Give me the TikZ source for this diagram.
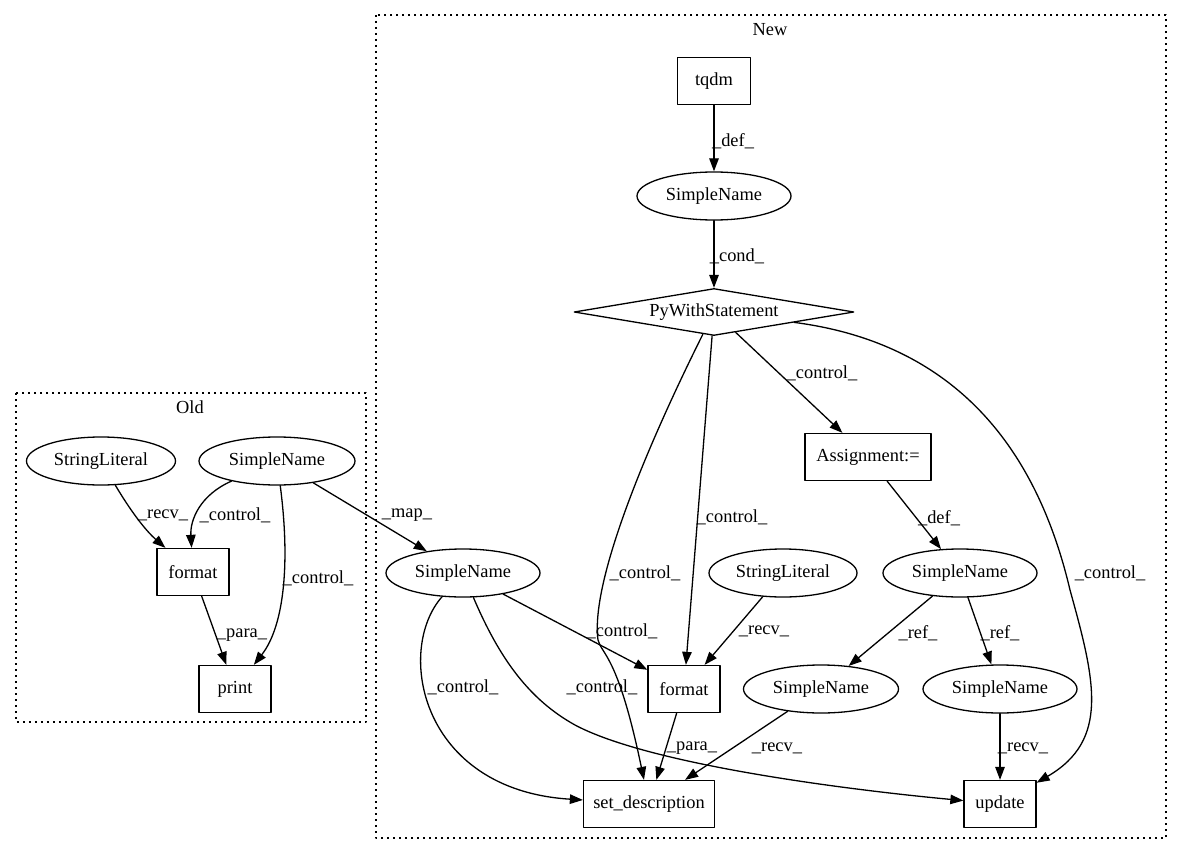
\documentclass[tikz,border=0pt]{standalone}
\usepackage{fontspec}
\setmainfont{Liberation Serif}
\usetikzlibrary{shapes.geometric,arrows.meta}
\begin{document}
\begin{tikzpicture}[x=1pt, y=-1pt, line width=1.3pt, line join=round, line cap=round, >={Triangle[length=13pt,width=9.5pt]}, font=\fontsize{18.4}{22}\selectfont]
	\tikzset{box/.style={draw, rectangle, inner sep=0pt, minimum height=47pt},
		oval/.style={draw, ellipse, inner sep=0pt, minimum height=48pt},
		lab/.style={inner sep=0pt},
		cluster/.style={draw, line width=1.5pt, line cap=butt, dash pattern=on 1.6pt off 4.4pt}}
	\useasboundingbox (0,0) rectangle (1181,856);
	\draw[cluster] (16,393) rectangle (366,722);
	\draw[cluster] (376,15) rectangle (1166,838);
	\node[lab] (lold) at (190,407) {Old};
	\node[lab] (lnew) at (770,30) {New};
	% Old
	\node[oval, minimum width=149pt] (osl) at (101,461) {StringLiteral};
	\node[oval, minimum width=156pt] (osn) at (277,461) {SimpleName};
	\node[box, minimum width=72pt] (ofmt) at (193,572) {format};
	\node[box, minimum width=72pt] (oprt) at (235,689) {print};
	% New
	\node[box, minimum width=73pt] (tqdm) at (714,81) {tqdm};
	\node[oval, minimum width=154pt] (snt) at (714,196) {SimpleName};
	\node[draw, diamond, aspect=6, inner sep=0pt, minimum width=280pt, minimum height=47pt] (pws) at (714,312) {PyWithStatement};
	\node[box, minimum width=126pt] (asg) at (868,457) {Assignment:=};
	\node[oval, minimum width=154pt] (smap) at (463,573) {SimpleName};
	\node[oval, minimum width=148pt] (snl) at (783,573) {StringLiteral};
	\node[oval, minimum width=154pt] (smr) at (960,573) {SimpleName};
	\node[box, minimum width=72pt] (nfmt) at (684,689) {format};
	\node[oval, minimum width=155pt] (srl) at (821,689) {SimpleName};
	\node[oval, minimum width=154pt] (srr) at (1000,689) {SimpleName};
	\node[box, minimum width=131pt] (setd) at (649,804) {set\_description};
	\node[box, minimum width=72pt] (updt) at (1000,804) {update};
	% edges of Old
	\draw[->] (osl) .. controls (130,510) and (145,530) .. (ofmt) node[lab] (l1) at (163,515) {\_recv\_};
	\draw[->] (osn) .. controls (200,495) and (190,520) .. (ofmt) node[lab] (l2) at (235,515) {\_control\_};
	\draw[->] (osn) .. controls (290,560) and (285,625) .. (oprt) node[lab] (l3) at (318,578) {\_control\_};
	\draw[->] (ofmt) -- (oprt) node[lab] (l4) at (242,635) {\_para\_};
	\draw[->] (osn) -- (smap) node[lab] (l5) at (407,515) {\_map\_};
	% edges of New
	\draw[->] (tqdm) -- (snt) node[lab] (l6) at (733,141) {\_def\_};
	\draw[->] (snt) -- (pws) node[lab] (l7) at (737,256) {\_cond\_};
	\draw[->] (pws) -- (asg) node[lab] (l8) at (822,373) {\_control\_};
	\draw[->] (pws) -- (nfmt) node[lab] (l9) at (732,517) {\_control\_};
	\draw[->] (pws) .. controls (650,440) and (590,580) .. (598,640) .. controls (602,655) and (618,655) .. (setd) node[lab] (l10) at (645,573) {\_control\_};
	\draw[->] (pws) .. controls (930,340) and (1030,420) .. (1070,590) .. controls (1095,680) and (1110,740) .. (updt) node[lab] (l11) at (1110,573) {\_control\_};
	\draw[->] (asg) -- (smr) node[lab] (l12) at (939,518) {\_def\_};
	\draw[->] (smap) -- (nfmt) node[lab] (l13) at (622,631) {\_control\_};
	\draw[->] (smap) .. controls (395,650) and (420,790) .. (setd) node[lab] (l14) at (463,687) {\_control\_};
	\draw[->] (smap) .. controls (500,660) and (530,700) .. (575,725) .. controls (650,765) and (850,790) .. (updt) node[lab] (l15) at (602,687) {\_control\_};
	\draw[->] (snl) -- (nfmt) node[lab] (l16) at (764,631) {\_recv\_};
	\draw[->] (nfmt) -- (setd) node[lab] (l17) at (692,748) {\_para\_};
	\draw[->] (srl) -- (setd) node[lab] (l18) at (777,748) {\_recv\_};
	\draw[->] (smr.-140) -- (srl) node[lab] (l19) at (918,633) {\_ref\_};
	\draw[->] (smr.-72) -- (srr) node[lab] (l20) at (1000,633) {\_ref\_};
	\draw[->] (srr) -- (updt) node[lab] (l21) at (1023,748) {\_recv\_};
\end{tikzpicture}
\end{document}
